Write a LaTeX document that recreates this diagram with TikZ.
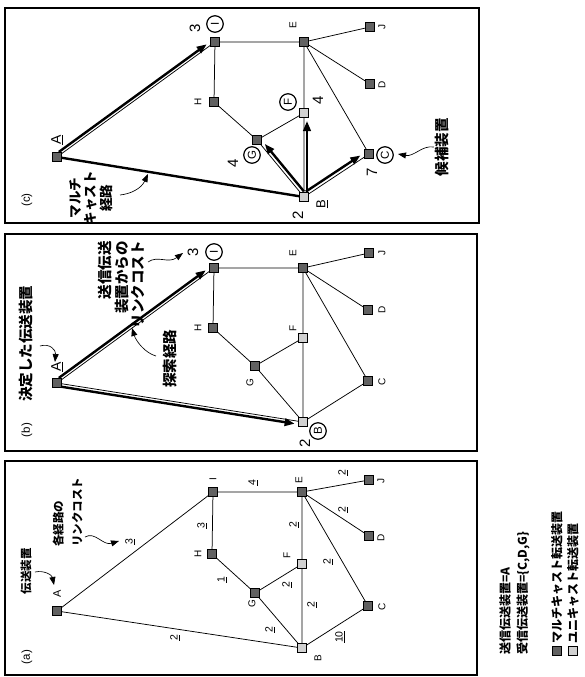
\documentclass[tikz,border=0pt]{standalone}
\usepackage{fontspec}
\setmainfont{Liberation Sans}
\newfontfamily\jp{Noto Sans CJK JP}
\usetikzlibrary{arrows.meta,calc}
\newcommand\netedges[1]{%
  \draw[edge] (#1A)--(#1I) (#1A)--(#1B) (#1I)--(#1E) (#1I)--(#1H) (#1H)--(#1G)
    (#1G)--(#1F) (#1G)--(#1B) (#1F)--(#1E) (#1F)--(#1B) (#1E)--(#1J) (#1E)--(#1D)
    (#1E)--(#1C) (#1B)--(#1C);}
\begin{document}
\begin{tikzpicture}[x=1pt,y=-1pt,
  mc/.style={draw, line width=0.7pt, fill=black!62, minimum size=8.5pt, inner sep=0pt, outer sep=0pt},
  uc/.style={mc, fill=black!18},
  edge/.style={line width=0.75pt},
  route/.style={line width=2.4pt},
  routearr/.style={route, -{Triangle[length=10pt,width=7.5pt]}, shorten >=8pt, shorten <=4.5pt},
  ann/.style={line width=0.65pt, -{Triangle[length=8pt,width=6pt]}},
  lbl/.style={rotate=90, inner sep=0pt, font=\fontsize{10}{11}\selectfont},
  cost/.style={rotate=90, inner sep=0pt, font=\fontsize{10.5}{11}\selectfont},
  num/.style={rotate=90, inner sep=0pt, font=\fontsize{15}{16}\selectfont},
  circ/.style={circle, draw, line width=1.2pt, minimum size=16.5pt, inner sep=0pt, rotate=90, font=\fontsize{11.5}{12}\selectfont},
  jpbig/.style={rotate=90, inner sep=0pt, font=\jp\bfseries\fontsize{14.5}{16.5}\selectfont},
  jpsmall/.style={rotate=90, inner sep=0pt, font=\jp\bfseries\fontsize{11.5}{19}\selectfont},
  jpleg/.style={rotate=90, inner sep=0pt, anchor=west, font=\jp\bfseries\fontsize{12}{13}\selectfont},
  panel/.style={line width=1.1pt}]
\useasboundingbox (0,0) rectangle (585,677);

% ---------------- panel frames
\draw[panel] (5,8) rectangle (479,223);
\draw[panel] (5,234) rectangle (477,451);
\draw[panel] (5,461) rectangle (477,675);

% ================= panel (c)
\node[mc] (cA) at (57,157) {};
\node[mc] (cI) at (215,42) {};
\node[mc] (cE) at (304,42) {};
\node[mc] (cJ) at (370,27) {};
\node[mc] (cD) at (370,84) {};
\node[mc] (cH) at (214,102) {};
\node[uc] (cF) at (304,113) {};
\node[mc] (cG) at (257,140) {};
\node[mc] (cC) at (369,154) {};
\node[uc] (cB) at (304,197) {};
\netedges{c}
\draw[routearr] ($(cA)!3pt!90:(cI)$) -- ($(cI)!3pt!-90:(cA)$);
\draw[route] (cA) -- (cB);
\draw[routearr] ($(cB)!3.5pt!-90:(cG)$) -- ($(cG)!3.5pt!90:(cB)$);
\draw[routearr] ($(cB)!3pt!-90:(cF)$) -- ($(cF)!3pt!90:(cB)$);
\draw[routearr] ($(cB)!3.5pt!90:(cC)$) -- ($(cC)!3.5pt!-90:(cB)$);

\node[rotate=90, inner sep=0pt, font=\fontsize{11.5}{12}\selectfont] (cT) at (27,200) {(c)};
\node[rotate=90, inner sep=0pt, font=\fontsize{14}{15}\selectfont] (cAl) at (57,140) {\underline{A}};
\node[rotate=90, inner sep=0pt, font=\fontsize{13}{14}\selectfont] (cBl) at (322,204) {\underline{B}};
\node[num] (cBn) at (298,215) {2};
\node[lbl] (cHl) at (198,102) {H};
\node[lbl] (cEl) at (293,25) {E};
\node[lbl] (cJl) at (382,27) {J};
\node[lbl] (cDl) at (382,85) {D};
\node[circ] (cIc) at (215,24) {I};
\node[num] (cIn) at (195,28) {3};
\node[circ] (cFc) at (288,102) {F};
\node[num] (cFn) at (318,100) {4};
\node[circ] (cGc) at (252,155) {G};
\node[num] (cGn) at (233,163) {4};
\node[circ] (cCc) at (385,155) {C};
\node[num] (cCn) at (372,172) {7};
\node[rotate=90, inner sep=0pt, align=center, font=\jp\bfseries\fontsize{13.5}{15.5}\selectfont] (cM) at (91,198) {マルチ\\キャスト\\経路};
\coordinate (cMt) at (120,195);
\coordinate (cMh) at (148,174);
\draw[ann] (cMt) .. controls (130,194) and (141,189) .. (cMh);
\node[jpbig] (cK) at (442,147) {候補装置};
\coordinate (cKt) at (434,147);
\coordinate (cKh) at (398,154);
\draw[ann] (cKt) .. controls (422,145) and (414,157) .. (cKh);

% ================= panel (b)
\node[mc] (bA) at (57,383) {};
\node[mc] (bI) at (214,268) {};
\node[mc] (bE) at (303,268) {};
\node[mc] (bJ) at (369,253) {};
\node[mc] (bD) at (368,310) {};
\node[mc] (bH) at (213,328) {};
\node[uc] (bF) at (303,338) {};
\node[mc] (bG) at (255,366) {};
\node[mc] (bC) at (368,381) {};
\node[uc] (bB) at (303,422) {};
\netedges{b}
\draw[routearr] ($(bA)!3pt!90:(bI)$) -- ($(bI)!3pt!-90:(bA)$);
\draw[routearr] ($(bA)!3pt!-90:(bB)$) -- ($(bB)!3pt!90:(bA)$);

\node[rotate=90, inner sep=0pt, font=\fontsize{11.5}{12}\selectfont] (bT) at (27,430) {(b)};
\node[rotate=90, inner sep=0pt, font=\fontsize{14}{15}\selectfont] (bAl) at (57,367) {\underline{A}};
\node[lbl] (bHl) at (198,328) {H};
\node[lbl] (bGl) at (250,383) {G};
\node[lbl] (bFl) at (293,328) {F};
\node[lbl] (bEl) at (293,253) {E};
\node[lbl] (bJl) at (382,253) {J};
\node[lbl] (bDl) at (382,310) {D};
\node[lbl] (bCl) at (382,382) {C};
\node[circ] (bIc) at (214,252) {I};
\node[num] (bIn) at (193,252) {3};
\node[circ] (bBc) at (318,431) {B};
\node[num] (bBn) at (305,443) {2};
\node[jpbig, anchor=west] (bK) at (26,402) {決定した伝送装置};
\coordinate (bKt) at (40,346);
\coordinate (bKh) at (55,362);
\draw[ann] (bKt) .. controls (50,343) and (56,350) .. (bKh);
\node[jpbig, anchor=east, align=right] (bS) at (121.5,241) {送信伝送\\装置からの\\リンクコスト};
\coordinate (bSt) at (148,262);
\coordinate (bSh) at (183,253);
\draw[ann] (bSt) .. controls (158,255) and (168,264) .. (bSh);
\node[jpbig, anchor=west] (bR) at (170,388) {探索経路};
\coordinate (bRt) at (156,356);
\coordinate (bRh) at (132,328);
\draw[ann] (bRt) .. controls (145,353) and (136,341) .. (bRh);

% ================= panel (a)
\node[mc] (aA) at (57,611) {};
\node[mc] (aI) at (213,492) {};
\node[mc] (aE) at (302,492) {};
\node[mc] (aJ) at (369,480) {};
\node[mc] (aD) at (369,536) {};
\node[mc] (aH) at (212,554) {};
\node[uc] (aF) at (302,564) {};
\node[mc] (aG) at (255,593) {};
\node[mc] (aC) at (368,606) {};
\node[uc] (aB) at (302,648) {};
\netedges{a}

\node[rotate=90, inner sep=0pt, font=\fontsize{11.5}{12}\selectfont] (aT) at (27,657) {(a)};
\node[lbl, font=\fontsize{11}{12}\selectfont] (aAl) at (57,594) {A};
\node[lbl] (aIl) at (213,479) {I};
\node[lbl] (aEl) at (299,480) {E};
\node[lbl] (aJl) at (381,481) {J};
\node[lbl] (aDl) at (381,538) {D};
\node[lbl] (aHl) at (198,554) {H};
\node[lbl] (aFl) at (287,555) {F};
\node[lbl] (aGl) at (252,604) {G};
\node[lbl] (aCl) at (382,607) {C};
\node[lbl] (aBl) at (318,658) {B};
\node[cost] (c1) at (175,638) {\underline{2}};
\node[cost] (c2) at (130,542) {\underline{3}};
\node[cost] (c3) at (202,526) {\underline{3}};
\node[cost] (c4) at (253,483) {\underline{4}};
\node[cost] (c5) at (222,580) {\underline{1}};
\node[cost] (c6) at (287,585) {\underline{2}};
\node[cost] (c7) at (294,525) {\underline{2}};
\node[cost] (c8) at (270,630) {\underline{2}};
\node[cost] (c9) at (312,605) {\underline{2}};
\node[cost] (c10) at (328,562) {\underline{2}};
\node[cost] (c11) at (343,473) {\underline{2}};
\node[cost] (c12) at (343,510) {\underline{2}};
\node[cost] (c13) at (340,637) {\underline{10}};
\node[jpsmall] (aK) at (26,571) {伝送装置};
\coordinate (aKt) at (35,572);
\coordinate (aKh) at (54,585);
\draw[ann] (aKt) .. controls (44,570) and (52,575) .. (aKh);
\node[jpsmall, anchor=west, align=left] (aR) at (67.5,547) {各経路の\\リンクコスト};
\coordinate (aRt) at (85,537);
\coordinate (aRh) at (119,541);
\draw[ann] (aRt) .. controls (95,531) and (103,546) .. (aRh);

% ================= legend
\node[jpleg] (L1) at (505,655) {送信伝送装置=A};
\node[jpleg] (L2) at (523,655) {受信伝送装置=\{C,D,G\}};
\node[mc] (Lm) at (557,651) {};
\node[jpleg] (L3) at (557,644) {マルチキャスト転送装置};
\node[uc] (Lu) at (573,651) {};
\node[jpleg] (L4) at (573,644) {ユニキャスト転送装置};
\end{tikzpicture}
\end{document}
